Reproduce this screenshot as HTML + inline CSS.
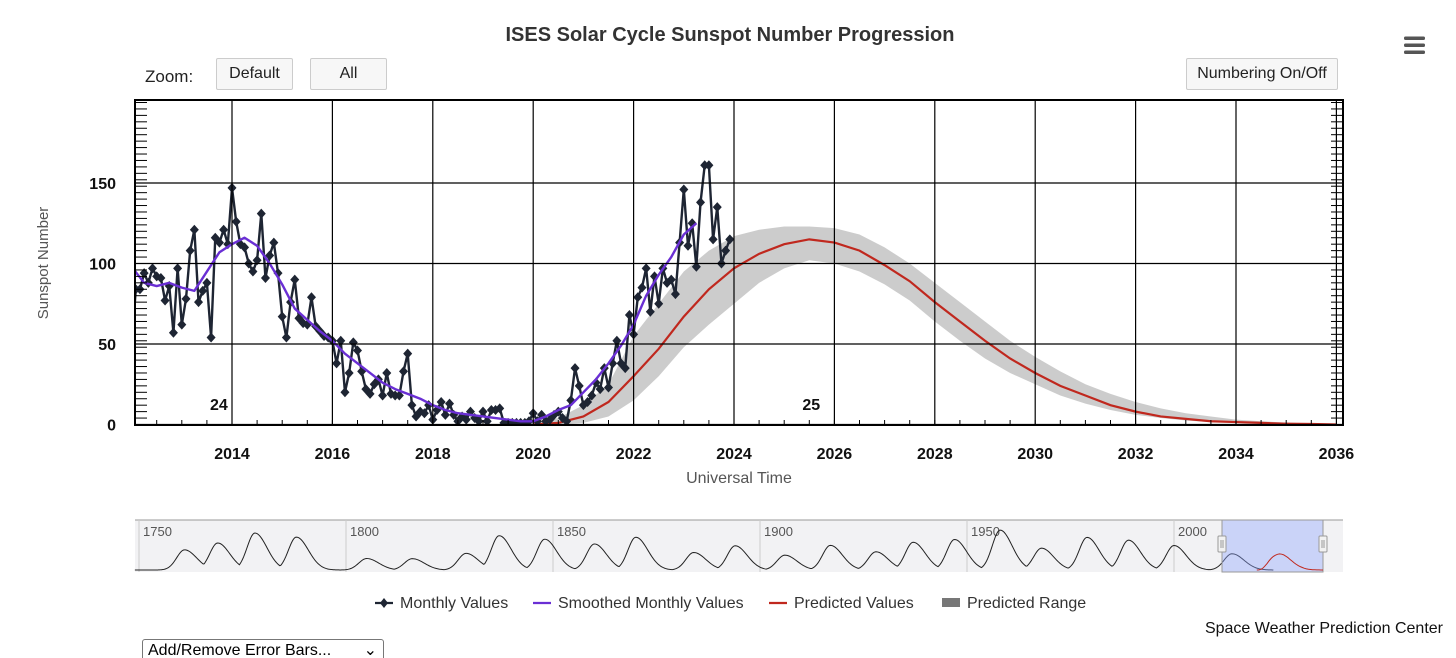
<!DOCTYPE html>
<html><head><meta charset="utf-8"><style>
body{margin:0;background:#fff;font-family:"Liberation Sans",Arial,sans-serif;}
#wrap{position:relative;width:1456px;height:658px;overflow:hidden;}
.btn{position:absolute;background:#f7f7f7;border:1px solid #ccc;border-radius:2px;font-size:16px;color:#222;text-align:center;line-height:30px;height:30px;}
</style></head><body>
<div id="wrap">
<svg id="svg" width="1456" height="658" style="position:absolute;left:0;top:0"></svg>
<div class="btn" style="left:216px;top:58px;width:75px">Default</div>
<div class="btn" style="left:310px;top:58px;width:75px">All</div>
<div class="btn" style="left:1186px;top:58px;width:150px">Numbering On/Off</div>
<div style="position:absolute;left:142px;top:639px;width:242px;height:24px;border:1px solid #777;border-radius:3px;font-size:16px;line-height:22px;padding-left:5px;box-sizing:border-box">Add/Remove Error Bars...<span style="position:absolute;right:6px;top:0">&#8964;</span></div>
</div>
<script>
// ---- data ----
const monthlyStart = 2012.0;
const monthlyValues = [48,84,84,94,88,97,92,91,77,86,57,97,
62,78,108,121,76,83,88,54,116,113,121,112,
147,126,112,110,100,95,102,131,91,105,113,94,
67,54,76,90,66,63,62,79,61,58,55,54,
52,38,52,20,32,51,46,33,22,19,25,28,
18,32,19,18,18,33,44,12,5,8,7,12,
3,9,14,6,13,6,2,5,3,8,4,2,
8,2,9,9,10,1,1,1,1,1,1,2,
7,2,6,2,3,6,8,4,2,15,35,24,
12,14,18,26,22,35,23,38,52,38,35,68,
56,79,85,97,70,92,75,97,88,90,81,113,
146,111,125,98,138,161,161,115,135,100,108,115];
const smoothStart = 2012.0;
const smoothValues = [98,88,86,88,85,83,95,107,112,116,111,100,87,72,65,58,52,44,38,32,26,22,19,16,12,9,7,6,5,4,3,2,2,5,9,12,20,28,38,49,62,80,93,104,118,125];
const predStart = 2020.0;
const predValues = [0,1,5,14,30,47,67,84,97,106,112,115,113,108,99,89,76,64,52,41,32,24,18,12,8,5,3.5,2,1.5,1,0.5,0.3,0];
const rangeUpper = [1,4,12,25,55,75,95,108,117,121,123,123,122,118,110,100,88,76,64,52,42,33,25,19,14,10,7,5,3,2,1.2,0.6,0.3];
const rangeLower = [0,0,1,5,15,30,48,62,75,88,97,102,100,95,87,77,64,52,41,32,25,18,13,9,6,4,2.5,1.5,1,0.5,0.3,0.1,0];
const xTickYears = [2014,2016,2018,2020,2022,2024,2026,2028,2030,2032,2034,2036];
const yTickValues = [0,50,100,150];
const cycleLabels = [{t:2013.5,label:"24"},{t:2025.3,label:"25"}];
const navCycleYears = [1761,1769,1778,1788,1805,1816,1829,1837,1848,1860,1870,1884,1894,1906,1917,1928,1937,1947,1958,1968,1979,1989,2000,2014];
const navCycleAmps = [144,193,264,235,82,81,119,245,220,186,234,125,173,106,176,130,198,218,285,156,233,213,175,116];
const navTickYears = [1750,1800,1850,1900,1950,2000];

// ---- scales ----
const X0=131.6, PXY=50.2;
const xs=t=>X0+(t-2012)*PXY;
const ys=v=>424.5-v*1.61;
const NX0=139, NPX=4.14;
const nx=t=>NX0+(t-1750)*NPX;
const ny=v=>570-v*0.14;

const svg=document.getElementById('svg');
const NS='http://www.w3.org/2000/svg';
function mk(tag,attrs,parent){const e=document.createElementNS(NS,tag);for(const k in attrs)e.setAttribute(k,attrs[k]);(parent||svg).appendChild(e);return e;}

let e=mk('text',{x:730,y:41,'text-anchor':'middle','font-size':20,'font-weight':'bold',fill:'#333'});e.textContent='ISES Solar Cycle Sunspot Number Progression';


e=mk('text',{x:145,y:82,'font-size':17,fill:'#222'});e.textContent='Zoom:';


const hb=mk('g',{});


[38,45,52].forEach(y=>mk('rect',{x:1404,y:y-1.5,width:21,height:3.5,rx:1.5,fill:'#555'},hb));

const L=135,R=1343,T=100,B=425;
const clip=mk('clipPath',{id:'pc'});mk('rect',{x:L,y:T,width:R-L,height:B-T},clip);
const plot=mk('g',{'clip-path':'url(#pc)'});



yTickValues.forEach(v=>{
  const l=mk('line',{x1:L,x2:R,y1:ys(v),y2:ys(v),stroke:'#000','stroke-width':1.2});
  
  
  const t=mk('text',{x:116,y:ys(v)+6,'text-anchor':'end','font-size':16,'font-weight':'bold',fill:'#111'});t.textContent=v;
  
  
});
xTickYears.forEach(yr=>{
  const l=mk('line',{x1:xs(yr),x2:xs(yr),y1:T,y2:B,stroke:'#000','stroke-width':1.2});
  
  
  const t=mk('text',{x:xs(yr),y:459,'text-anchor':'middle','font-size':16,'font-weight':'bold',fill:'#111'});t.textContent=yr;
  
  
});
for(let v=0;v<=200;v+=4){
  mk('line',{x1:L,x2:L+12,y1:ys(v),y2:ys(v),stroke:'#000','stroke-width':1});
  mk('line',{x1:R-12,x2:R,y1:ys(v),y2:ys(v),stroke:'#000','stroke-width':1});
}
for(let t=2012.5;t<2036;t+=0.5){mk('line',{x1:xs(t),x2:xs(t),y1:B-5,y2:B,stroke:'#000','stroke-width':1});}

let pts=[];
rangeUpper.forEach((v,i)=>pts.push(xs(predStart+i*0.5)+','+ys(v)));
for(let i=rangeLower.length-1;i>=0;i--)pts.push(xs(predStart+i*0.5)+','+ys(rangeLower[i]));
e=mk('polygon',{points:pts.join(' '),fill:'#bbb','fill-opacity':0.75},plot);


e=mk('polyline',{points:predValues.map((v,i)=>xs(predStart+i*0.5)+','+ys(v)).join(' '),fill:'none',stroke:'#c0281e','stroke-width':2.2},plot);


e=mk('polyline',{points:monthlyValues.map((v,i)=>xs(monthlyStart+i/12)+','+ys(v)).join(' '),fill:'none',stroke:'#1e2533','stroke-width':2.4},plot);


monthlyValues.forEach((v,i)=>{
  const x=xs(monthlyStart+i/12),y=ys(v);
  const d=mk('polygon',{points:`${x},${y-5} ${x+4.5},${y} ${x},${y+5} ${x-4.5},${y}`,fill:'#1e2533'},plot);
  
  
});
e=mk('polyline',{points:smoothValues.map((v,i)=>xs(smoothStart+i*0.25)+','+ys(v)).join(' '),fill:'none',stroke:'#6a2fd4','stroke-width':2.4,'stroke-linejoin':'round'},plot);



cycleLabels.forEach(c=>{const t=mk('text',{x:xs(c.t)+12,y:410,'text-anchor':'middle','font-size':16,'font-weight':'bold',fill:'#111'});t.textContent=c.label;

});

e=mk('rect',{x:L,y:T,width:R-L,height:B-T,fill:'none',stroke:'#000','stroke-width':2});



e=mk('text',{x:48,y:263,'text-anchor':'middle','font-size':15,fill:'#555',transform:'rotate(-90 48 263)'});e.textContent='Sunspot Number';


e=mk('text',{x:739,y:483,'text-anchor':'middle','font-size':16,fill:'#555'});e.textContent='Universal Time';



// navigator
const nav=mk('g',{});


mk('rect',{x:135,y:520,width:1208,height:52,fill:'#f2f2f4'},nav);
mk('line',{x1:135,x2:1343,y1:520,y2:520,stroke:'#999'},nav);
navTickYears.forEach(yr=>{mk('line',{x1:nx(yr),x2:nx(yr),y1:520,y2:572,stroke:'#ccc'},nav);
  const t=mk('text',{x:nx(yr)+4,y:536,'font-size':13,fill:'#555'},nav);t.textContent=yr;
  
  });
let np=[];
for(let t=1749;t<=2024;t+=0.25){
  let s=0;navCycleYears.forEach((c,i)=>{const d=t-c;const w=d<0?1.9:2.9;s=Math.max(s,navCycleAmps[i]*Math.exp(-d*d/(2*w*w)));});
  np.push(nx(t)+','+ny(s));
}
e=mk('polyline',{points:np.join(' '),fill:'none',stroke:'#222','stroke-width':1},nav);


e=mk('rect',{x:1222,y:520,width:101,height:52,fill:'#8ea4ff','fill-opacity':0.4,stroke:'#999'},nav);


e=mk('polyline',{points:predValues.map((v,i)=>nx(predStart+i*0.5)+','+ny(v*1.0)).join(' '),fill:'none',stroke:'#c0281e','stroke-width':1},nav);
[1222,1323].forEach(x=>{const h=mk('rect',{x:x-4,y:536,width:8,height:16,fill:'#f2f2f2',stroke:'#999',rx:1},nav);
  
  
  mk('line',{x1:x-1,x2:x-1,y1:540,y2:548,stroke:'#999'},nav);mk('line',{x1:x+1,x2:x+1,y1:540,y2:548,stroke:'#999'},nav);});

const leg=[{x:375,label:'Monthly Values',c:'#1e2533',type:'m'},{x:533,label:'Smoothed Monthly Values',c:'#6a2fd4',type:'l'},{x:769,label:'Predicted Values',c:'#c0281e',type:'l'},{x:942,label:'Predicted Range',c:'#777',type:'r'}];
leg.forEach(l=>{
  const g=mk('g',{});
  
  
  if(l.type==='r')mk('rect',{x:l.x,y:598,width:18,height:9,fill:l.c},g);
  else mk('line',{x1:l.x,x2:l.x+18,y1:603,y2:603,stroke:l.c,'stroke-width':2.2},g);
  if(l.type==='m')mk('polygon',{points:`${l.x+9},598 ${l.x+13},603 ${l.x+9},608 ${l.x+5},603`,fill:l.c},g);
  const t=mk('text',{x:l.x+25,y:608,'font-size':16,fill:'#333'},g);t.textContent=l.label;
});
e=mk('text',{x:1443,y:633,'text-anchor':'end','font-size':16,fill:'#111'});e.textContent='Space Weather Prediction Center';


</script>
</body></html>
